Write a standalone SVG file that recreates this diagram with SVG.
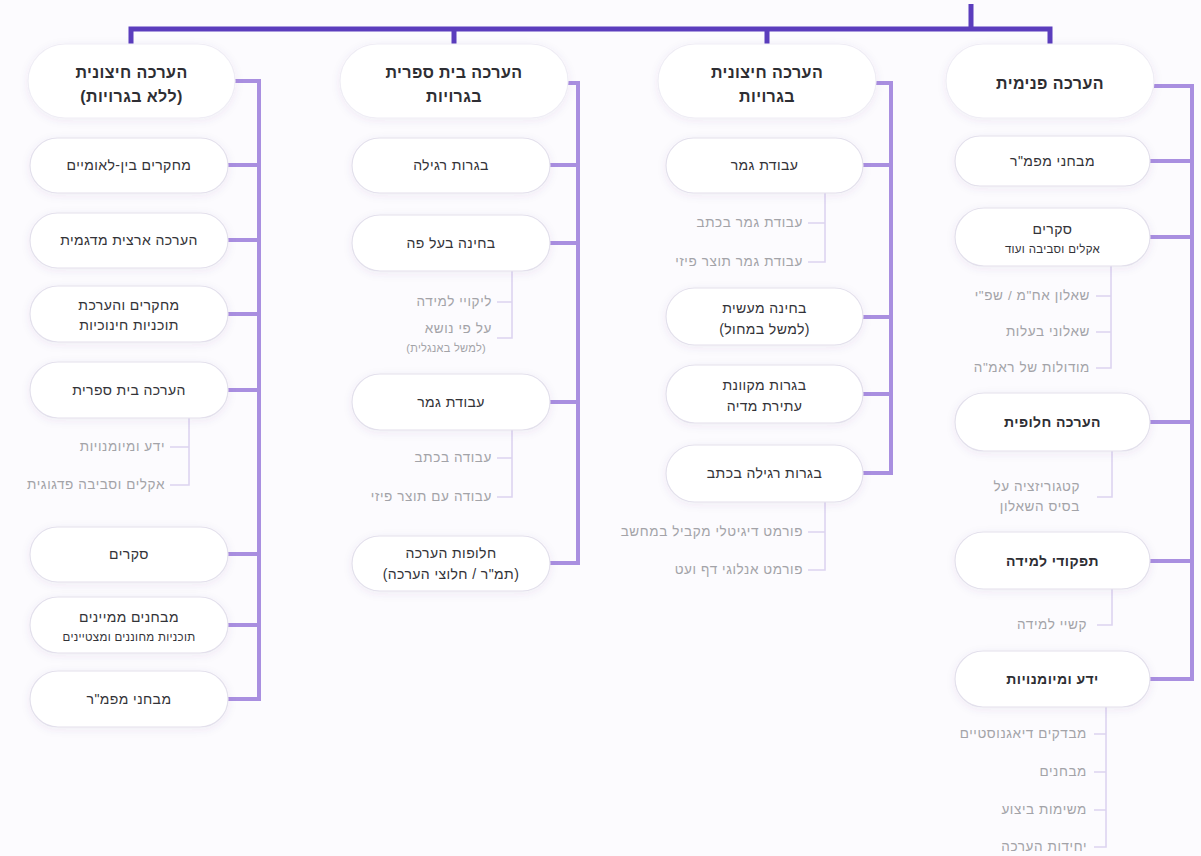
<svg xmlns="http://www.w3.org/2000/svg" width="1201" height="856" viewBox="0 0 1201 856">
  <defs>
    <filter id="soft" x="-20%" y="-40%" width="140%" height="180%">
      <feDropShadow dx="0" dy="2" stdDeviation="4" flood-color="#5a4a8a" flood-opacity="0.08"/>
    </filter>
  </defs>
  <style>
    text { font-family: "Liberation Sans", "DejaVu Sans", sans-serif; direction: rtl; }
    .head rect { fill: #ffffff; stroke: #efedf5; stroke-width: 1.2; filter: url(#soft); }
    .node rect { fill: #ffffff; stroke: #e3e0ec; stroke-width: 1.2; filter: url(#soft); }
    .ht { font-size: 16px; font-weight: bold; fill: #2e2e33; text-anchor: middle; letter-spacing: 0.4px; }
    .hb { font-size: 14px; font-weight: bold; fill: #2e2e33; text-anchor: middle; letter-spacing: 0.4px; }
    .nt { font-size: 14px; fill: #333338; text-anchor: middle; letter-spacing: 0.4px; }
    .ns { font-size: 11.5px; fill: #333338; text-anchor: middle; letter-spacing: 0.3px; }
    .st { font-size: 13.5px; fill: #a3a3a8; text-anchor: start; letter-spacing: 0.6px; }
    .sts { font-size: 11px; fill: #a3a3a8; text-anchor: start; letter-spacing: 0.3px; }
    .bar { stroke: #5b3dbd; stroke-width: 5; fill: none; }
    .br { stroke: #a98fe0; stroke-width: 4; fill: none; }
    .sl { stroke: #dcd4f0; stroke-width: 1.6; fill: none; }
  </style>

  <rect width="1201" height="856" fill="#fcfbfe"/>

  <!-- connectors -->
  <g id="connectors">
    <!-- trunk and column drops -->
    <path class="bar" d="M971 4 V29 M131 44 V29 H1050 V44 M454 29 V44 M767 29 V44"/>

    <!-- column 1 bracket -->
    <path class="br" d="M235 81 H259 V699 H228 M228 165 H259 M228 240 H259 M228 314 H259 M228 390 H259 M228 554 H259 M228 625 H259"/>
    <!-- column 2 bracket -->
    <path class="br" d="M568 83 H578 V563 H550 M550 165 H578 M550 243 H578 M550 402 H578"/>
    <!-- column 3 bracket -->
    <path class="br" d="M876 83 H891 V473 H863 M863 165 H891 M863 317 H891 M863 394 H891"/>
    <!-- column 4 bracket -->
    <path class="br" d="M1154 86 H1192 V679 H1150 M1150 161 H1192 M1150 237 H1192 M1150 422 H1192 M1150 561 H1192"/>

    <!-- leaf lines -->
    <path class="sl" d="M189 418 V485 H170 M170 447 H189"/>
    <path class="sl" d="M512 271 V338 H497 M497 302 H512"/>
    <path class="sl" d="M512 430 V497 H497 M497 458 H512"/>
    <path class="sl" d="M825 193 V262 H808 M808 223 H825"/>
    <path class="sl" d="M825 502 V570 H808 M808 532 H825"/>
    <path class="sl" d="M1111 266 V368 H1096 M1096 296 H1111 M1096 332 H1111"/>
    <path class="sl" d="M1112 451 V497 H1097"/>
    <path class="sl" d="M1112 589 V625 H1097"/>
    <path class="sl" d="M1106 707 V847 H1094 M1094 734 H1106 M1094 772 H1106 M1094 810 H1106"/>
  </g>

  <!-- column 1 -->
  <g id="ext-no-bagrut" class="head">
    <rect x="28" y="44" width="207" height="74" rx="37"/>
    <text class="ht" x="131.5" y="78">הערכה חיצונית</text>
    <text class="ht" x="131.5" y="102">(ללא בגרויות)</text>
  </g>
  <g id="intl-studies" class="node">
    <rect x="30" y="138" width="198" height="55" rx="27.5"/>
    <text class="nt" x="129" y="170">מחקרים בין-לאומיים</text>
  </g>
  <g id="national-sample" class="node">
    <rect x="30" y="213" width="198" height="55" rx="27.5"/>
    <text class="nt" x="129" y="245">הערכה ארצית מדגמית</text>
  </g>
  <g id="program-research" class="node">
    <rect x="30" y="286" width="198" height="56" rx="28"/>
    <text class="nt" x="129" y="310">מחקרים והערכת</text>
    <text class="nt" x="129" y="330">תוכניות חינוכיות</text>
  </g>
  <g id="school-eval" class="node">
    <rect x="30" y="362" width="198" height="56" rx="28"/>
    <text class="nt" x="129" y="395">הערכה בית ספרית</text>
  </g>
  <g id="school-eval-leaves">
    <text class="st" x="165" y="451">ידע ומיומנויות</text>
    <text class="st" x="165" y="489">אקלים וסביבה פדגוגית</text>
  </g>
  <g id="surveys-ext" class="node">
    <rect x="30" y="527" width="198" height="55" rx="27.5"/>
    <text class="nt" x="129" y="559">סקרים</text>
  </g>
  <g id="placement-tests" class="node">
    <rect x="30" y="597" width="198" height="56" rx="28"/>
    <text class="nt" x="129" y="622">מבחנים ממיינים</text>
    <text class="ns" x="129" y="641">תוכניות מחוננים ומצטיינים</text>
  </g>
  <g id="mafmar-ext" class="node">
    <rect x="30" y="671" width="198" height="56" rx="28"/>
    <text class="nt" x="129" y="704">מבחני מפמ"ר</text>
  </g>

  <!-- column 2 -->
  <g id="school-bagrut" class="head">
    <rect x="340" y="44" width="228" height="74" rx="37"/>
    <text class="ht" x="454" y="78">הערכה בית ספרית</text>
    <text class="ht" x="454" y="102">בגרויות</text>
  </g>
  <g id="regular-bagrut" class="node">
    <rect x="352" y="138" width="198" height="55" rx="27.5"/>
    <text class="nt" x="451" y="170">בגרות רגילה</text>
  </g>
  <g id="oral-exam" class="node">
    <rect x="352" y="215" width="198" height="56" rx="28"/>
    <text class="nt" x="451" y="248">בחינה בעל פה</text>
  </g>
  <g id="oral-exam-leaves">
    <text class="st" x="492" y="306">ליקויי למידה</text>
    <text class="st" x="492" y="333">על פי נושא</text>
    <text class="sts" x="486" y="352">(למשל באנגלית)</text>
  </g>
  <g id="final-project-school" class="node">
    <rect x="352" y="374" width="198" height="56" rx="28"/>
    <text class="nt" x="451" y="407">עבודת גמר</text>
  </g>
  <g id="final-project-school-leaves">
    <text class="st" x="492" y="462">עבודה בכתב</text>
    <text class="st" x="492" y="501">עבודה עם תוצר פיזי</text>
  </g>
  <g id="alt-assessment" class="node">
    <rect x="352" y="536" width="198" height="55" rx="27.5"/>
    <text class="nt" x="451" y="558">חלופות הערכה</text>
    <text class="nt" x="451" y="579">(תמ"ר / חלוצי הערכה)</text>
  </g>

  <!-- column 3 -->
  <g id="ext-bagrut" class="head">
    <rect x="658" y="44" width="218" height="74" rx="37"/>
    <text class="ht" x="767" y="78">הערכה חיצונית</text>
    <text class="ht" x="767" y="102">בגרויות</text>
  </g>
  <g id="final-project-ext" class="node">
    <rect x="666" y="138" width="197" height="55" rx="27.5"/>
    <text class="nt" x="764.5" y="170">עבודת גמר</text>
  </g>
  <g id="final-project-ext-leaves">
    <text class="st" x="803" y="227">עבודת גמר בכתב</text>
    <text class="st" x="803" y="266">עבודת גמר תוצר פיזי</text>
  </g>
  <g id="practical-exam" class="node">
    <rect x="666" y="288" width="197" height="57" rx="28.5"/>
    <text class="nt" x="764.5" y="313">בחינה מעשית</text>
    <text class="nt" x="764.5" y="334">(למשל במחול)</text>
  </g>
  <g id="online-bagrut" class="node">
    <rect x="666" y="365" width="197" height="58" rx="29"/>
    <text class="nt" x="764.5" y="390">בגרות מקוונת</text>
    <text class="nt" x="764.5" y="411">עתירת מדיה</text>
  </g>
  <g id="written-bagrut" class="node">
    <rect x="666" y="445" width="197" height="57" rx="28.5"/>
    <text class="nt" x="764.5" y="478">בגרות רגילה בכתב</text>
  </g>
  <g id="written-bagrut-leaves">
    <text class="st" x="803" y="536">פורמט דיגיטלי מקביל במחשב</text>
    <text class="st" x="803" y="574">פורמט אנלוגי דף ועט</text>
  </g>

  <!-- column 4 -->
  <g id="internal" class="head">
    <rect x="946" y="44" width="208" height="74" rx="37"/>
    <text class="ht" x="1050" y="89">הערכה פנימית</text>
  </g>
  <g id="mafmar-int" class="node">
    <rect x="955" y="136" width="195" height="50" rx="25"/>
    <text class="nt" x="1052.5" y="166">מבחני מפמ"ר</text>
  </g>
  <g id="surveys-int" class="node">
    <rect x="955" y="208" width="195" height="58" rx="29"/>
    <text class="nt" x="1052.5" y="234">סקרים</text>
    <text class="ns" x="1052.5" y="253">אקלים וסביבה ועוד</text>
  </g>
  <g id="surveys-int-leaves">
    <text class="st" x="1090" y="300">שאלון אח"מ / שפ"י</text>
    <text class="st" x="1090" y="336">שאלוני בעלות</text>
    <text class="st" x="1090" y="372">מודולות של ראמ"ה</text>
  </g>
  <g id="alt-int" class="node">
    <rect x="955" y="393" width="195" height="58" rx="29"/>
    <text class="hb" x="1052.5" y="427">הערכה חלופית</text>
  </g>
  <g id="alt-int-leaves">
    <text class="st" x="1080" y="491">קטגוריזציה על</text>
    <text class="st" x="1080" y="511">בסיס השאלון</text>
  </g>
  <g id="learning-functions" class="node">
    <rect x="955" y="532" width="195" height="57" rx="28.5"/>
    <text class="hb" x="1052.5" y="566">תפקודי למידה</text>
  </g>
  <g id="learning-functions-leaves">
    <text class="st" x="1087" y="629">קשיי למידה</text>
  </g>
  <g id="knowledge-skills" class="node">
    <rect x="955" y="651" width="195" height="56" rx="28"/>
    <text class="hb" x="1052.5" y="684">ידע ומיומנויות</text>
  </g>
  <g id="knowledge-skills-leaves">
    <text class="st" x="1087" y="738">מבדקים דיאגנוסטיים</text>
    <text class="st" x="1087" y="776">מבחנים</text>
    <text class="st" x="1087" y="814">משימות ביצוע</text>
    <text class="st" x="1087" y="851">יחידות הערכה</text>
  </g>
</svg>
